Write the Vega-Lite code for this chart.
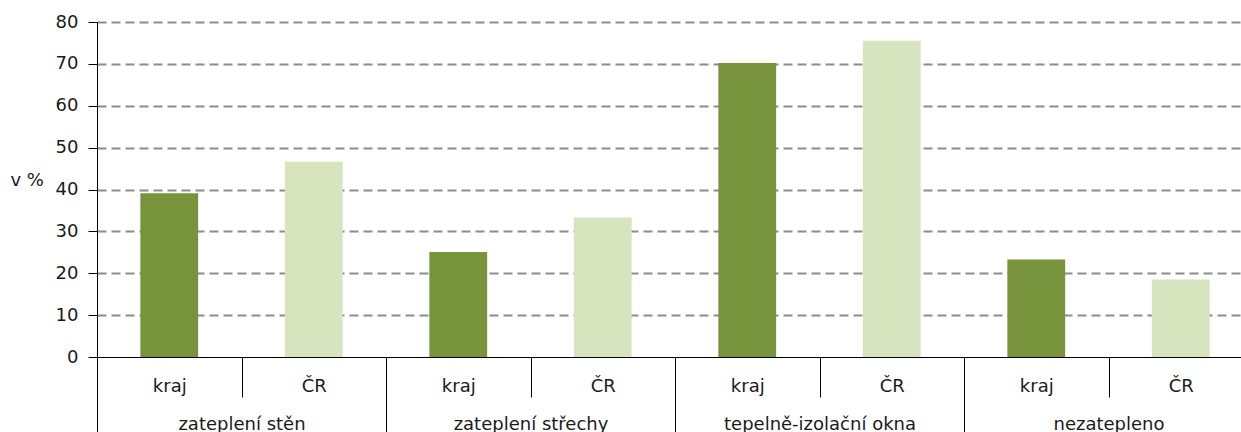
{
  "$schema": "https://vega.github.io/schema/vega-lite/v6.json",
  "width": 1144,
  "height": 335,
  "autosize": {"type": "none"},
  "padding": {"left": 97, "top": 22, "right": 0, "bottom": 75},
  "background": "white",
  "data": {
    "values": [
      {"kategorie": "zateplení stěn", "uzemi": "kraj", "skupina": "zateplení stěn|kraj", "hodnota": 39.1},
      {"kategorie": "zateplení stěn", "uzemi": "ČR", "skupina": "zateplení stěn|ČR", "hodnota": 46.6},
      {"kategorie": "zateplení střechy", "uzemi": "kraj", "skupina": "zateplení střechy|kraj", "hodnota": 25.1},
      {"kategorie": "zateplení střechy", "uzemi": "ČR", "skupina": "zateplení střechy|ČR", "hodnota": 33.3},
      {"kategorie": "tepelně-izolační okna", "uzemi": "kraj", "skupina": "tepelně-izolační okna|kraj", "hodnota": 70.2},
      {"kategorie": "tepelně-izolační okna", "uzemi": "ČR", "skupina": "tepelně-izolační okna|ČR", "hodnota": 75.5},
      {"kategorie": "nezatepleno", "uzemi": "kraj", "skupina": "nezatepleno|kraj", "hodnota": 23.3},
      {"kategorie": "nezatepleno", "uzemi": "ČR", "skupina": "nezatepleno|ČR", "hodnota": 18.5}
    ]
  },
  "config": {
    "view": {"stroke": null},
    "font": "DejaVu Sans",
    "axis": {
      "labelFont": "DejaVu Sans",
      "labelFontSize": 18,
      "labelColor": "#1a1a1a",
      "labelLimit": 400,
      "titleFont": "DejaVu Sans",
      "domainColor": "#000000",
      "tickColor": "#000000",
      "domainWidth": 1,
      "tickWidth": 1
    }
  },
  "layer": [
    {
      "mark": {"type": "bar", "opacity": 0},
      "encoding": {
        "x": {
          "field": "kategorie",
          "type": "nominal",
          "sort": ["zateplení stěn", "zateplení střechy", "tepelně-izolační okna", "nezatepleno"],
          "scale": {"range": [0, 1156], "paddingInner": 0, "paddingOuter": 0},
          "axis": {
            "orient": "bottom",
            "title": null,
            "domain": false,
            "grid": false,
            "tickBand": "extent",
            "tickSize": 76,
            "labelPadding": -4,
            "labelBaseline": "alphabetic",
            "labelAngle": 0
          }
        },
        "y": {
          "field": "hodnota",
          "type": "quantitative",
          "scale": {"domain": [0, 80], "nice": false},
          "axis": {
            "values": [0, 10, 20, 30, 40, 50, 60, 70, 80],
            "title": "v %",
            "titleAngle": 0,
            "titleAlign": "left",
            "titleBaseline": "alphabetic",
            "titleX": -87,
            "titleY": 163,
            "titleFontSize": 18,
            "titleFontWeight": "normal",
            "titleColor": "#1a1a1a",
            "tickSize": 9,
            "labelPadding": 10,
            "grid": true,
            "gridColor": "#8c8c8c",
            "gridWidth": 2,
            "gridDash": [9, 5],
            "gridOpacity": {"condition": {"test": "datum.value === 0", "value": 0}, "value": 1}
          }
        }
      }
    },
    {
      "mark": {"type": "bar", "width": {"band": 0.4}},
      "encoding": {
        "x": {
          "field": "skupina",
          "type": "nominal",
          "sort": null,
          "scale": {"range": [0, 1156], "paddingInner": 0, "paddingOuter": 0},
          "axis": {
            "orient": "bottom",
            "title": null,
            "domain": true,
            "grid": false,
            "tickBand": "extent",
            "tickSize": 40,
            "labelPadding": -6,
            "labelBaseline": "alphabetic",
            "labelAngle": 0,
            "labelExpr": "split(datum.value, '|')[1]"
          }
        },
        "y": {"field": "hodnota", "type": "quantitative"},
        "color": {
          "field": "uzemi",
          "type": "nominal",
          "scale": {"domain": ["kraj", "ČR"], "range": ["#77933C", "#D7E4BD"]},
          "legend": null
        }
      }
    }
  ],
  "resolve": {"scale": {"x": "independent"}, "axis": {"x": "independent"}}
}
